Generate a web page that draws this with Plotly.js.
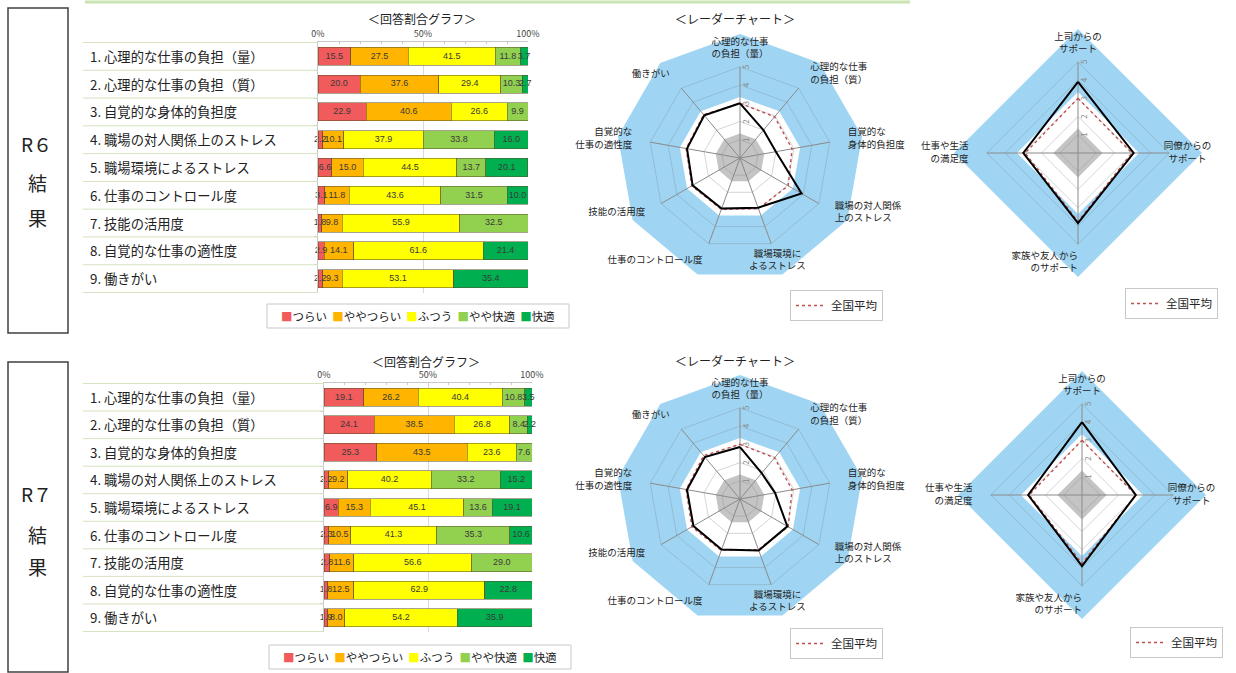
<!DOCTYPE html>
<html><head><meta charset="utf-8">
<script src="https://cdn.plot.ly/plotly-3.0.1.min.js"></script>
<style>html,body{margin:0;padding:0;background:#fff}#chart{width:1236px;height:673px}</style>
</head><body><div id="chart"></div>
<script>
// ---------- data ----------
const categories = ['1. 心理的な仕事の負担（量）','2. 心理的な仕事の負担（質）','3. 自覚的な身体的負担度','4. 職場の対人関係上のストレス','5. 職場環境によるストレス','6. 仕事のコントロール度','7. 技能の活用度','8. 自覚的な仕事の適性度','9. 働きがい'];
const answerNames = ['つらい','ややつらい','ふつう','やや快適','快適'];

const r6_tsurai      = [15.5,20.0,22.9,2.2,6.6,3.1,1.8,2.9,2.2];
const r6_yayatsurai  = [27.5,37.6,40.6,10.1,15.0,11.8,9.8,14.1,9.3];
const r6_futsuu      = [41.5,29.4,26.6,37.9,44.5,43.6,55.9,61.6,53.1];
const r6_yayakaiteki = [11.8,10.3,9.9,33.8,13.7,31.5,32.5,0,0];
const r6_kaiteki     = [3.7,2.7,0,16.0,20.1,10.0,0,21.4,35.4];

const r7_tsurai      = [19.1,24.1,25.3,2.2,6.9,2.3,2.8,1.8,1.9];
const r7_yayatsurai  = [26.2,38.5,43.5,9.2,15.3,10.5,11.6,12.5,8.0];
const r7_futsuu      = [40.4,26.8,23.6,40.2,45.1,41.3,56.6,62.9,54.2];
const r7_yayakaiteki = [10.8,8.4,7.6,33.2,13.6,35.3,29.0,0,0];
const r7_kaiteki     = [3.5,2.2,0,15.2,19.1,10.6,0,22.8,35.9];

const radarCats9 = ['心理的な仕事の負担（量）','心理的な仕事の負担（質）','自覚的な身体的負担度','職場の対人関係上のストレス','職場環境によるストレス','仕事のコントロール度','技能の活用度','自覚的な仕事の適性度','働きがい'];
const radarLabels9 = ['心理的な仕事<br>の負担（量）','心理的な仕事<br>の負担（質）','自覚的な<br>身体的負担度','職場の対人関係<br>上のストレス','職場環境に<br>よるストレス','仕事のコントロール度','技能の活用度','自覚的な<br>仕事の適性度','働きがい'];
const r6_score9   = [3.0,2.0,2.0,3.9,2.9,2.95,3.0,2.95,3.05];
const r7_score9   = [2.85,1.85,1.95,3.0,3.0,2.95,2.95,2.95,3.0];
const national9   = [3.0,2.95,2.9,3.05,2.95,3.0,3.05,3.0,3.1];

const radarCats4 = ['上司からのサポート','同僚からのサポート','家族や友人からのサポート','仕事や生活の満足度'];
const radarLabels4 = ['上司からの<br>サポート','同僚からの<br>サポート','家族や友人から<br>のサポート','仕事や生活<br>の満足度'];
const r6_score4 = [3.9,3.05,3.85,3.0];
const r7_score4 = [4.0,2.95,3.9,2.95];
const national4 = [3.0,2.95,3.75,2.9];
const radialTicks = [1,2,3,4,5];

// ---------- helpers ----------
const W = 1236, H = 673;
const px = x => x / W;
const py = y => 1 - y / H;
const FONT = 'Noto Sans CJK JP, Noto Sans, sans-serif';
const barColors = ['#f15b5b','#ffb400','#ffff00','#92d050','#00b050'];
const BLUE = '#9fd5f3';
const RMAX = 6.8, WHITE_R = 3.35, GREY_R = 1.35, LABEL_R = 6.0;

const traces = [];

function barSet(series, xa, ya) {
  const cum = categories.map(() => 0);
  const lx = [], ly = [], lt = [];
  series.forEach((vals, k) => {
    traces.push({
      type: 'bar', orientation: 'h', x: vals, y: categories, name: answerNames[k],
      xaxis: xa, yaxis: ya, showlegend: false,
      marker: {color: barColors[k], line: {color: 'rgba(90,80,40,0.75)', width: 0.7}},
      hoverinfo: 'skip'
    });
    vals.forEach((v, i) => {
      if (v > 0) { lx.push(cum[i] + v / 2); ly.push(categories[i]); lt.push(v.toFixed(1)); }
      cum[i] += v;
    });
  });
  traces.push({type: 'scatter', mode: 'text', x: lx, y: ly, text: lt, xaxis: xa, yaxis: ya,
    textposition: 'middle center', cliponaxis: false, showlegend: false, hoverinfo: 'skip',
    textfont: {size: 9, color: '#3a3a3a', family: 'Liberation Sans, Arial, sans-serif'}});
}
barSet([r6_tsurai, r6_yayatsurai, r6_futsuu, r6_yayakaiteki, r6_kaiteki], 'x', 'y');
barSet([r7_tsurai, r7_yayatsurai, r7_futsuu, r7_yayakaiteki, r7_kaiteki], 'x2', 'y2');

function radar(sub, cats, labels, labelPos, score, avg, legendId) {
  const closed = a => a.concat([a[0]]);
  const thetaC = closed(cats);
  const ring = v => cats.map(() => v);
  traces.push({type: 'scatterpolar', subplot: sub, r: closed(ring(WHITE_R)), theta: thetaC, mode: 'lines',
    fill: 'toself', fillcolor: '#ffffff', line: {width: 0, color: '#ffffff'}, showlegend: false, hoverinfo: 'skip'});
  traces.push({type: 'scatterpolar', subplot: sub, r: closed(ring(GREY_R)), theta: thetaC, mode: 'lines',
    fill: 'toself', fillcolor: '#c4c4c4', line: {width: 0, color: '#c4c4c4'}, showlegend: false, hoverinfo: 'skip'});
  traces.push({type: 'scatterpolar', subplot: sub,
    r: radialTicks.flatMap(k => closed(ring(k)).concat([null])),
    theta: radialTicks.flatMap(() => thetaC.concat([null])),
    mode: 'lines', line: {width: 0.8, color: 'rgba(130,140,150,0.45)'}, showlegend: false, hoverinfo: 'skip'});
  traces.push({type: 'scatterpolar', subplot: sub,
    r: cats.flatMap(() => [0, 5, null]), theta: cats.flatMap(c => [c, c, null]),
    mode: 'lines', line: {width: 1, color: '#8a8a8a'}, showlegend: false, hoverinfo: 'skip'});
  traces.push({type: 'scatterpolar', subplot: sub, r: closed(avg), theta: thetaC, mode: 'lines',
    name: '全国平均', legend: legendId, showlegend: true,
    line: {color: '#c0504d', dash: 'dot', width: 1.4}, hoverinfo: 'skip'});
  traces.push({type: 'scatterpolar', subplot: sub, r: closed(score), theta: thetaC, mode: 'lines',
    line: {color: '#000000', width: 2}, showlegend: false, hoverinfo: 'skip'});
  traces.push({type: 'scatterpolar', subplot: sub, r: ring(LABEL_R), theta: cats, mode: 'text',
    text: labels, textposition: labelPos, textfont: {size: 9.5, color: '#222', family: FONT},
    showlegend: false, hoverinfo: 'skip', cliponaxis: false});
}
const pos9 = ['middle center','middle right','middle right','middle right','middle center','middle left','middle left','middle left','middle left'];
const pos4 = ['middle center','middle center','middle left','middle left'];
radar('polar',  radarCats9, radarLabels9, pos9, r6_score9, national9, 'legend');
radar('polar2', radarCats4, radarLabels4, pos4, r6_score4, national4, 'legend2');
radar('polar3', radarCats9, radarLabels9, pos9, r7_score9, national9, 'legend3');
radar('polar4', radarCats4, radarLabels4, pos4, r7_score4, national4, 'legend4');

function polarLayout(cx, cy, cats) {
  const rad = 124;
  return {
    domain: {x: [px(cx - rad), px(cx + rad)], y: [py(cy + rad), py(cy - rad)]},
    bgcolor: BLUE, gridshape: 'linear',
    radialaxis: {range: [0, RMAX], tickvals: radialTicks, showgrid: false, showline: false, ticks: '',
      tickfont: {size: 8, color: '#8a8a8a'}, angle: 90, layer: 'above traces'},
    angularaxis: {type: 'category', categoryorder: 'array', categoryarray: cats, rotation: 90,
      direction: 'clockwise', showgrid: false, showline: false, showticklabels: false, ticks: ''}
  };
}

function xAxis(x0, x1, anchor) {
  return {domain: [px(x0), px(x1)], range: [0, 100], side: 'top', anchor: anchor,
    tickvals: [0, 50, 100], ticktext: ['0%', '50%', '100%'], tickfont: {size: 9, color: '#444'},
    showgrid: true, gridcolor: '#d9d9d9', zeroline: false, showline: true, linecolor: '#c8c8c8',
    ticks: 'inside', ticklen: 3, tickcolor: '#c8c8c8',
    minor: {dtick: 10, ticks: 'inside', ticklen: 2, tickcolor: '#c8c8c8', showgrid: false}, fixedrange: true};
}
function yAxis(y0, y1, anchor) {
  return {domain: [py(y1), py(y0)], type: 'category', autorange: 'reversed', anchor: anchor,
    showticklabels: false, showline: true, linecolor: '#c8c8c8', ticks: 'outside', tickson: 'boundaries',
    ticklen: 3, tickcolor: '#c8c8c8', showgrid: false, fixedrange: true};
}

const annotations = [];
const ann = (text, x, y, size, extra) => annotations.push(Object.assign({text, x: px(x), y: py(y), xref: 'paper', yref: 'paper',
  xanchor: 'center', yanchor: 'middle', showarrow: false, font: {size, color: '#222', family: FONT}}, extra || {}));
ann('＜回答割合グラフ＞', 422, 18, 12);
ann('＜回答割合グラフ＞', 426, 361, 12);
ann('＜レーダーチャート＞', 735, 18, 12);
ann('＜レーダーチャート＞', 735, 360, 12);
ann('R６', 36, 143, 19); ann('結', 37, 183, 19); ann('果', 37, 218, 19);
ann('R７', 36, 494, 19); ann('結', 37, 534, 19); ann('果', 37, 566, 19);
categories.forEach(c => {
  ['y', 'y2'].forEach(ya => annotations.push({text: c, xref: 'paper', x: px(88), xanchor: 'left', yanchor: 'middle',
    yref: ya, y: c, showarrow: false, font: {size: 13.3, color: '#222', family: FONT}}));
});
// bar legends (colour keys as text)
const NB = '\u00a0';
const legendText = answerNames.map((n, k) => `<span style="color:${barColors[k]}">■</span>${n}`).join(NB + NB);
ann(legendText, 418, 316, 11.5);
ann(legendText, 420, 657, 11.5);

const shapes = [
  {type: 'line', xref: 'paper', yref: 'paper', x0: px(85), x1: px(910), y0: py(2), y1: py(2), line: {color: '#c9e3b1', width: 3}},
  {type: 'rect', xref: 'paper', yref: 'paper', x0: px(8), x1: px(68), y0: py(333), y1: py(8), line: {color: '#404040', width: 1.5}},
  {type: 'rect', xref: 'paper', yref: 'paper', x0: px(8), x1: px(68), y0: py(672), y1: py(362), line: {color: '#404040', width: 1.5}},
  {type: 'rect', xref: 'paper', yref: 'paper', x0: px(267), x1: px(569), y0: py(328), y1: py(304), line: {color: '#c8c8c8', width: 1}},
  {type: 'rect', xref: 'paper', yref: 'paper', x0: px(269), x1: px(571), y0: py(669), y1: py(645), line: {color: '#c8c8c8', width: 1}}
];
[['y', 318], ['y2', 324]].forEach(([ya, xr]) => {
  for (let i = 0; i <= categories.length; i++) {
    shapes.push({type: 'line', xref: 'paper', x0: px(83), x1: px(xr), yref: ya, y0: i - 0.5, y1: i - 0.5,
      line: {color: '#d5e3c0', width: 1}});
  }
});

const lineLegend = (x, y) => ({x: px(x), y: py(y), xanchor: 'left', yanchor: 'top',
  font: {size: 11.5, color: '#222', family: FONT}, bordercolor: '#c8c8c8', borderwidth: 1, itemwidth: 30,
  bgcolor: '#ffffff'});

const layout = {
  width: W, height: H, margin: {l: 0, r: 0, t: 0, b: 0},
  paper_bgcolor: '#ffffff', plot_bgcolor: '#ffffff',
  font: {family: FONT, color: '#222'},
  barmode: 'stack', bargap: 0.35,
  xaxis: xAxis(318, 528, 'y'), yaxis: yAxis(42, 293, 'x'),
  xaxis2: xAxis(324, 532, 'y2'), yaxis2: yAxis(383, 632, 'x2'),
  polar: polarLayout(740, 158, radarCats9),
  polar2: polarLayout(1078, 153, radarCats4),
  polar3: polarLayout(740, 499, radarCats9),
  polar4: polarLayout(1082, 495, radarCats4),
  legend: lineLegend(790, 290),
  legend2: lineLegend(1125, 288),
  legend3: lineLegend(790, 628),
  legend4: lineLegend(1130, 627),
  annotations, shapes, showlegend: true
};

Plotly.newPlot('chart', traces, layout, {staticPlot: true, displayModeBar: false});
</script>
</body></html>
